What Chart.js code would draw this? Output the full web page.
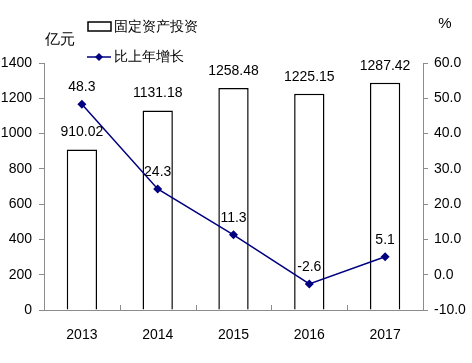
<!DOCTYPE html>
<html>
<head>
<meta charset="utf-8">
<script src="https://cdn.jsdelivr.net/npm/chart.js@4"></script>
<style>
  html, body { margin: 0; padding: 0; background: #fff; }
  #wrap { width: 472px; height: 363px; }
</style>
</head>
<body>
<div id="wrap"><canvas id="chart" width="472" height="363"></canvas></div>
<script>
// ---- data ----
const years = ['2013', '2014', '2015', '2016', '2017'];
const investment = [910.02, 1131.18, 1258.48, 1225.15, 1287.42];
const growth = [48.3, 24.3, 11.3, -2.6, 5.1];
const barLabels = ['910.02', '1131.18', '1258.48', '1225.15', '1287.42'];
const lineLabels = ['48.3', '24.3', '11.3', '-2.6', '5.1'];

const FONT = '"Liberation Sans", Arial, sans-serif';
const NAVY = '#000080';
const AXIS = '#8c8c8c';

// labels, legend, unit titles, category ticks
const extras = {
  id: 'extras',
  afterDatasetsDraw(chart) {
    const ctx = chart.ctx;
    const area = chart.chartArea;
    ctx.save();

    // small category separators on the x axis, pointing up
    const xs = chart.scales.x;
    ctx.strokeStyle = AXIS;
    ctx.lineWidth = 1;
    for (let i = 1; i < years.length; i++) {
      const x = Math.round((xs.getPixelForValue(i - 1) + xs.getPixelForValue(i)) / 2) + 0.5;
      ctx.beginPath();
      ctx.moveTo(x, area.bottom);
      ctx.lineTo(x, area.bottom - 5);
      ctx.stroke();
    }

    // value labels
    ctx.fillStyle = '#000';
    ctx.font = '14px ' + FONT;
    ctx.textAlign = 'center';
    ctx.textBaseline = 'middle';
    chart.getDatasetMeta(1).data.forEach((bar, i) => {
      ctx.fillText(barLabels[i], bar.x, bar.y - 17);
    });
    chart.getDatasetMeta(0).data.forEach((pt, i) => {
      ctx.fillText(lineLabels[i], pt.x, pt.y - 17);
    });

    // unit titles
    ctx.font = '15px ' + FONT;
    ctx.fillText('亿元', 60, 40);
    ctx.fillText('%', 445, 24);

    // legend
    ctx.textAlign = 'left';
    ctx.font = '14px ' + FONT;
    ctx.fillStyle = '#fff';
    ctx.strokeStyle = '#000';
    ctx.lineWidth = 1.5;
    ctx.fillRect(88, 22, 23, 9);
    ctx.strokeRect(88, 22, 23, 9);
    ctx.fillStyle = '#000';
    ctx.fillText(chart.data.datasets[1].label, 114, 27);

    ctx.strokeStyle = NAVY;
    ctx.beginPath();
    ctx.moveTo(87, 57);
    ctx.lineTo(111, 57);
    ctx.stroke();
    ctx.fillStyle = NAVY;
    ctx.beginPath();
    ctx.moveTo(99, 53); ctx.lineTo(103, 57); ctx.lineTo(99, 61); ctx.lineTo(95, 57);
    ctx.closePath();
    ctx.fill();
    ctx.fillStyle = '#000';
    ctx.fillText(chart.data.datasets[0].label, 114, 57);

    ctx.restore();
  }
};

new Chart(document.getElementById('chart'), {
  data: {
    labels: years,
    datasets: [
      {
        type: 'line',
        label: '比上年增长',
        data: growth,
        yAxisID: 'y1',
        borderColor: NAVY,
        backgroundColor: NAVY,
        borderWidth: 1.5,
        pointStyle: 'rectRot',
        pointRadius: 4.5,
        pointBorderWidth: 0,
        tension: 0,
        order: 0
      },
      {
        type: 'bar',
        label: '固定资产投资',
        data: investment,
        yAxisID: 'y',
        backgroundColor: '#fff',
        borderColor: '#000',
        borderWidth: 1.5,
        categoryPercentage: 1,
        barPercentage: 0.4,
        order: 1
      }
    ]
  },
  options: {
    responsive: false,
    animation: false,
    layout: { padding: { top: 63, left: 0, right: 0, bottom: 0 } },
    plugins: { legend: { display: false }, tooltip: { enabled: false } },
    scales: {
      x: {
        grid: { display: false },
        border: { display: true, color: AXIS, width: 1 },
        ticks: { color: '#000', font: { size: 14, family: FONT }, padding: 9 },
        afterFit: s => { s.height = 53; }
      },
      y: {
        position: 'left',
        min: 0, max: 1400,
        grid: { drawOnChartArea: false, color: AXIS, tickLength: 5 },
        border: { display: true, color: AXIS, width: 1 },
        ticks: {
          stepSize: 200, color: '#000', font: { size: 14, family: FONT }, padding: 7,
          callback: v => String(v)
        },
        afterFit: s => { s.width = 44; }
      },
      y1: {
        position: 'right',
        min: -10, max: 60,
        grid: { drawOnChartArea: false, color: AXIS, tickLength: 5 },
        border: { display: true, color: AXIS, width: 1 },
        ticks: {
          stepSize: 10, color: '#000', font: { size: 14, family: FONT }, padding: 6,
          callback: v => Number(v).toFixed(1)
        },
        afterFit: s => { s.width = 49; }
      }
    }
  },
  plugins: [extras]
});
</script>
</body>
</html>
